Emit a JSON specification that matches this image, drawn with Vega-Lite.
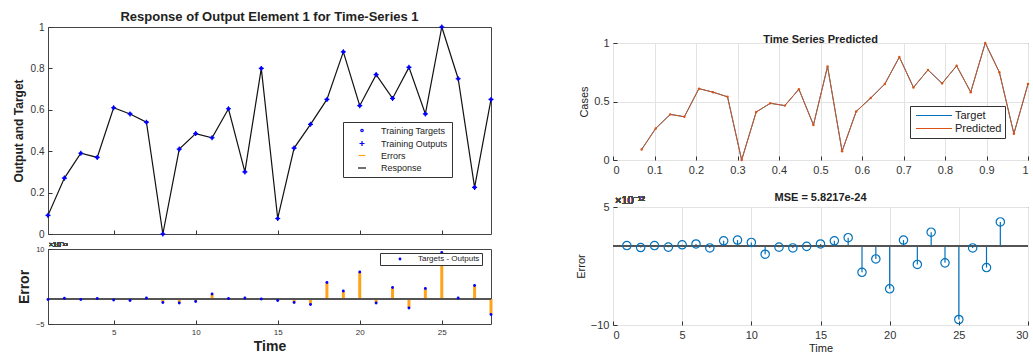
{
  "$schema": "https://vega.github.io/schema/vega-lite/v6.json",
  "background": "white",
  "padding": {"left": 11, "top": 10, "right": 5, "bottom": 5},
  "config": {
    "font": "Liberation Sans",
    "view": {"stroke": "#444", "strokeWidth": 1},
    "axis": {"grid": false, "domain": false, "tickSize": -4, "tickColor": "#333", "labelPadding": 8, "labelColor": "#333", "titleColor": "#222", "labelFont": "Liberation Sans", "titleFont": "Liberation Sans", "gridColor": "#e3e3e3"},
    "title": {"font": "Liberation Sans", "color": "#222"},
    "legend": {"labelFont": "Liberation Sans", "labelColor": "#222"}
  },
  "datasets": {
    "d": [
      {"t": 1, "v": 0.09, "xr": 0.069, "e": -0.1, "er": 0.1},
      {"t": 2, "v": 0.27, "xr": 0.103, "e": 0.15, "er": -0.15},
      {"t": 3, "v": 0.39, "xr": 0.138, "e": -0.1, "er": 0.1},
      {"t": 4, "v": 0.37, "xr": 0.172, "e": 0.1, "er": -0.1},
      {"t": 5, "v": 0.61, "xr": 0.207, "e": -0.2, "er": 0.2},
      {"t": 6, "v": 0.58, "xr": 0.241, "e": -0.3, "er": 0.3},
      {"t": 7, "v": 0.54, "xr": 0.276, "e": 0.2, "er": -0.2},
      {"t": 8, "v": 0.0, "xr": 0.31, "e": -0.7, "er": 0.7},
      {"t": 9, "v": 0.41, "xr": 0.345, "e": -0.8, "er": 0.8},
      {"t": 10, "v": 0.485, "xr": 0.379, "e": -0.5, "er": 0.5},
      {"t": 11, "v": 0.465, "xr": 0.414, "e": 1.0, "er": -1.0},
      {"t": 12, "v": 0.605, "xr": 0.448, "e": 0.1, "er": -0.1},
      {"t": 13, "v": 0.3, "xr": 0.483, "e": 0.2, "er": -0.2},
      {"t": 14, "v": 0.8, "xr": 0.517, "e": 0.0, "er": 0.0},
      {"t": 15, "v": 0.075, "xr": 0.552, "e": -0.3, "er": 0.3},
      {"t": 16, "v": 0.415, "xr": 0.586, "e": -0.7, "er": 0.7},
      {"t": 17, "v": 0.53, "xr": 0.621, "e": -1.1, "er": 1.1},
      {"t": 18, "v": 0.65, "xr": 0.655, "e": 3.3, "er": -3.3},
      {"t": 19, "v": 0.88, "xr": 0.69, "e": 1.6, "er": -1.6},
      {"t": 20, "v": 0.62, "xr": 0.724, "e": 5.4, "er": -5.4},
      {"t": 21, "v": 0.77, "xr": 0.759, "e": -0.8, "er": 0.8},
      {"t": 22, "v": 0.655, "xr": 0.793, "e": 2.3, "er": -2.3},
      {"t": 23, "v": 0.805, "xr": 0.828, "e": -1.8, "er": 1.8},
      {"t": 24, "v": 0.58, "xr": 0.862, "e": 2.1, "er": -2.1},
      {"t": 25, "v": 1.0, "xr": 0.897, "e": 9.3, "er": -9.3},
      {"t": 26, "v": 0.75, "xr": 0.931, "e": 0.2, "er": -0.2},
      {"t": 27, "v": 0.225, "xr": 0.966, "e": 2.7, "er": -2.7},
      {"t": 28, "v": 0.65, "xr": 1.0, "e": -3.1, "er": 3.1}
    ]
  },
  "spacing": 77,
  "resolve": {"scale": {"color": "independent", "shape": "independent", "size": "independent", "strokeWidth": "independent"}, "legend": {"color": "independent", "shape": "independent", "size": "independent", "strokeWidth": "independent"}},
  "hconcat": [
    {
      "spacing": 0.01,
      "vconcat": [
        {
          "bounds": "flush",
          "spacing": 15,
          "resolve": {"scale": {"color": "independent", "shape": "independent", "size": "independent", "strokeWidth": "independent"}, "legend": {"color": "independent", "shape": "independent", "size": "independent", "strokeWidth": "independent"}},
          "vconcat": [
            {
              "width": 443,
              "height": 207,
              "title": {"text": "Response of Output Element 1 for Time-Series 1", "fontSize": 13, "fontWeight": "bold", "offset": -2, "frame": "group"},
              "data": {"name": "d"},
              "layer": [
                {
                  "mark": {"type": "line"},
                  "encoding": {
                    "x": {"field": "t", "type": "quantitative", "scale": {"domain": [1, 28], "nice": false}, "axis": {"values": [5, 10, 15, 20, 25], "labels": false, "title": null}},
                    "y": {"field": "v", "type": "quantitative", "scale": {"domain": [0, 1], "nice": false}, "axis": {"values": [0, 0.2, 0.4, 0.6, 0.8, 1], "format": "~g", "labelFontSize": 10, "title": "Output and Target", "titleFontSize": 12, "titleFontWeight": "bold", "titlePadding": 5}},
                    "color": {"datum": "Response", "scale": {"domain": ["Training Targets", "Training Outputs", "Errors", "Response"], "range": ["#0000ff", "#0000ff", "#ffa31a", "#111111"]}, "legend": {"orient": "none", "legendX": 295, "legendY": 95, "title": null, "labelFontSize": 9, "strokeColor": "#333", "fillColor": "white", "padding": 4, "rowPadding": 2, "symbolStrokeWidth": 1.2, "symbolOffset": 10, "labelOffset": 14}},
                    "strokeWidth": {"datum": "Response", "type": "ordinal", "scale": {"domain": ["Training Targets", "Training Outputs", "Errors", "Response"], "range": [1.2, 1.2, 3, 1.2]}, "legend": {"orient": "none", "legendX": 295, "legendY": 95, "title": null, "labelFontSize": 9, "strokeColor": "#333", "fillColor": "white", "padding": 4, "rowPadding": 2, "symbolStrokeWidth": 1.2, "symbolOffset": 10, "labelOffset": 14}}
                  }
                },
                {
                  "mark": {"type": "point", "filled": false, "strokeWidth": 1.2, "opacity": 1},
                  "encoding": {
                    "x": {"field": "t", "type": "quantitative"},
                    "y": {"field": "v", "type": "quantitative"},
                    "color": {"datum": "Training Outputs"},
                    "shape": {"datum": "Training Outputs", "scale": {"domain": ["Training Targets", "Training Outputs", "Errors", "Response"], "range": ["circle", "M-1,0L1,0M0,-1L0,1", "stroke", "stroke"]}, "legend": {"orient": "none", "legendX": 295, "legendY": 95, "title": null, "labelFontSize": 9, "strokeColor": "#333", "fillColor": "white", "padding": 4, "rowPadding": 2, "symbolStrokeWidth": 1.2, "symbolOffset": 10, "labelOffset": 14}},
                    "size": {"datum": "Training Outputs", "type": "ordinal", "scale": {"domain": ["Training Targets", "Training Outputs", "Errors", "Response"], "range": [6, 64, 1300, 1300]}, "legend": {"orient": "none", "legendX": 295, "legendY": 95, "title": null, "labelFontSize": 9, "strokeColor": "#333", "fillColor": "white", "padding": 4, "rowPadding": 2, "symbolStrokeWidth": 1.2, "symbolOffset": 10, "labelOffset": 14}}
                  }
                },
                {
                  "mark": {"type": "point", "filled": false, "strokeWidth": 1.2, "opacity": 1},
                  "encoding": {
                    "x": {"field": "t", "type": "quantitative"},
                    "y": {"field": "v", "type": "quantitative"},
                    "color": {"datum": "Training Targets"},
                    "shape": {"datum": "Training Targets"},
                    "size": {"datum": "Training Targets", "type": "ordinal"}
                  }
                }
              ]
            },
            {
              "width": 443,
              "height": 75,
              "data": {"name": "d"},
              "layer": [
                {
                  "mark": {"type": "rule", "color": "#ffa31a", "strokeWidth": 3},
                  "encoding": {
                    "x": {"field": "t", "type": "quantitative", "scale": {"domain": [1, 28], "nice": false}, "axis": {"values": [5, 10, 15, 20, 25], "labelFontSize": 8, "title": "Time", "titleFontSize": 14, "titleFontWeight": "bold", "titlePadding": 3}},
                    "y": {"field": "e", "type": "quantitative", "scale": {"domain": [-5, 10], "nice": false}, "axis": {"values": [-5, 0, 5, 10], "labelFontSize": 7.5, "title": "Error", "titleFontSize": 14, "titleFontWeight": "bold", "titlePadding": 4}},
                    "y2": {"datum": 0}
                  }
                },
                {
                  "mark": {"type": "rule", "color": "#555", "strokeWidth": 1.5},
                  "encoding": {"y": {"datum": 0}}
                },
                {
                  "mark": {"type": "point", "filled": true, "size": 8, "opacity": 1},
                  "encoding": {
                    "x": {"field": "t", "type": "quantitative"},
                    "y": {"field": "e", "type": "quantitative"},
                    "color": {"datum": "Targets - Outputs", "scale": {"domain": ["Targets - Outputs"], "range": ["#0000ff"]}, "legend": {"orient": "none", "legendX": 332, "legendY": 4, "title": null, "labelFontSize": 8, "strokeColor": "#333", "fillColor": "white", "padding": 2, "symbolSize": 8, "symbolOffset": 14, "labelOffset": 14}}
                  }
                },
                {
                  "mark": {"type": "text", "align": "left", "baseline": "bottom", "fontSize": 7, "dx": 1, "dy": -1, "color": "#444"},
                  "encoding": {"x": {"datum": 1}, "y": {"datum": 10}, "text": {"value": "×10⁻¹²"}}
                }
              ]
            }
          ]
        }
      ]
    },
    {
      "spacing": 0.01,
      "vconcat": [
        {
          "width": 415,
          "height": 0.5,
          "data": {"values": [{}]},
          "mark": {"type": "text"},
          "encoding": {"text": {"value": ""}},
          "view": {"stroke": null}
        },
        {
          "bounds": "flush",
          "spacing": 47,
          "vconcat": [
            {
              "width": 415,
              "height": 117,
              "title": {"text": "Time Series Predicted", "fontSize": 11, "fontWeight": "bold", "offset": -8, "frame": "group"},
              "data": {"name": "d"},
              "layer": [
                {
                  "mark": {"type": "line", "strokeWidth": 1},
                  "encoding": {
                    "x": {"field": "xr", "type": "quantitative", "scale": {"domain": [0, 1], "nice": false}, "axis": {"values": [0, 0.1, 0.2, 0.3, 0.4, 0.5, 0.6, 0.7, 0.8, 0.9, 1], "format": "~g", "grid": true, "labelFontSize": 11, "title": null}},
                    "y": {"field": "v", "type": "quantitative", "scale": {"domain": [0, 1], "nice": false}, "axis": {"values": [0, 0.5, 1], "format": "~g", "grid": true, "labelFontSize": 11, "title": "Cases", "titleFontSize": 11, "titleFontWeight": "normal", "titlePadding": 4}},
                    "color": {"datum": "Target", "scale": {"domain": ["Target", "Predicted"], "range": ["#0072BD", "#D95319"]}, "legend": {"orient": "none", "legendX": 297, "legendY": 79, "title": null, "labelFontSize": 11, "strokeColor": "#333", "fillColor": "white", "padding": 3, "rowPadding": 0, "symbolSize": 1300, "clipHeight": 13, "symbolStrokeWidth": 1.2, "symbolOffset": 2, "labelOffset": 2}}
                  }
                },
                {
                  "mark": {"type": "line", "strokeWidth": 1},
                  "encoding": {
                    "x": {"field": "xr", "type": "quantitative"},
                    "y": {"field": "v", "type": "quantitative"},
                    "color": {"datum": "Predicted"}
                  }
                },
                {
                  "mark": {"type": "point", "filled": true, "size": 6, "color": "#D95319", "opacity": 1},
                  "encoding": {
                    "x": {"field": "xr", "type": "quantitative"},
                    "y": {"field": "v", "type": "quantitative"}
                  }
                }
              ]
            },
            {
              "width": 415,
              "height": 118,
              "title": {"text": "MSE = 5.8217e-24", "fontSize": 11, "fontWeight": "bold", "offset": -8, "frame": "group"},
              "data": {"name": "d"},
              "layer": [
                {
                  "mark": {"type": "rule", "color": "#0072BD", "strokeWidth": 1.2},
                  "encoding": {
                    "x": {"field": "t", "type": "quantitative", "scale": {"domain": [0, 30], "nice": false}, "axis": {"values": [0, 5, 10, 15, 20, 25, 30], "grid": true, "labelFontSize": 11, "title": "Time", "titleFontSize": 11, "titleFontWeight": "normal", "titlePadding": 2}},
                    "y": {"field": "er", "type": "quantitative", "scale": {"domain": [-10, 5], "nice": false}, "axis": {"values": [-10, -5, 0, 5], "grid": true, "labelFontSize": 11, "title": "Error", "titleFontSize": 11, "titleFontWeight": "normal", "titlePadding": 4}},
                    "y2": {"datum": 0}
                  }
                },
                {
                  "mark": {"type": "rule", "color": "#555", "strokeWidth": 1},
                  "encoding": {"y": {"datum": 0}}
                },
                {
                  "mark": {"type": "point", "filled": false, "size": 70, "color": "#0072BD", "strokeWidth": 1.2, "opacity": 1},
                  "encoding": {
                    "x": {"field": "t", "type": "quantitative"},
                    "y": {"field": "er", "type": "quantitative"}
                  }
                },
                {
                  "mark": {"type": "text", "align": "left", "baseline": "bottom", "fontSize": 11, "dx": 2, "dy": -1, "color": "#444"},
                  "encoding": {"x": {"datum": 0}, "y": {"datum": 5}, "text": {"value": "×10⁻¹²"}}
                }
              ]
            }
          ]
        }
      ]
    }
  ]
}
